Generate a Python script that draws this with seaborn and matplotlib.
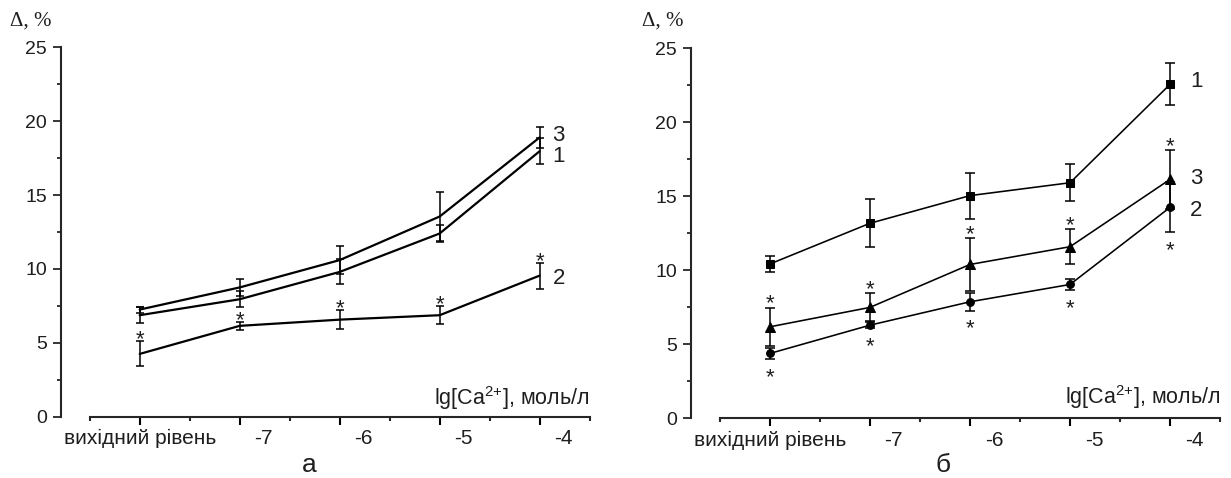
import numpy as np
import pandas as pd
import matplotlib
matplotlib.use("Agg")
import matplotlib.pyplot as plt
import matplotlib.transforms as mtransforms
import seaborn as sns

# ---------------- data ----------------
categories = ["вихідний рівень", "-7", "-6", "-5", "-4"]

# panel а
a_s1 = [6.87, 7.95, 9.80, 12.40, 17.97]
a_s1_err = [0.55, 0.55, 0.85, 0.55, 0.90]
a_s2 = [4.25, 6.15, 6.57, 6.87, 9.55]
a_s2_err = [0.85, 0.25, 0.65, 0.60, 0.88]
a_s3 = [7.25, 8.75, 10.60, 13.55, 18.90]
a_s3_err = [0.20, 0.60, 0.95, 1.65, 0.70]

# panel б
b_s1 = [10.43, 13.18, 15.05, 15.92, 22.57]
b_s1_err = [0.55, 1.62, 1.55, 1.25, 1.42]
b_s2 = [4.39, 6.30, 7.88, 9.05, 14.26]
b_s2_err = [0.40, 0.20, 0.60, 0.40, 1.70]
b_s3 = [6.19, 7.50, 10.40, 11.60, 16.15]
b_s3_err = [1.30, 0.95, 1.78, 1.20, 2.00]

# significance marks (True = asterisk)
a_s2_sig = [True, True, True, True, True]
b_s3_sig = [True, True, True, True, True]
b_s2_sig = [True, True, True, True, True]

series_names = ["1", "2", "3"]
a_label_y = [17.6, 9.36, 19.06]
b_label_y = [22.76, 14.04, 16.23]

ylabel_text = "Δ, %"
xlabel_text = r"lg[Ca$^{2{+}}$], моль/л"
panel_letters = ["а", "б"]

# ---------------- style ----------------
sns.set_style("ticks")
plt.rcParams["font.family"] = ["Liberation Sans", "DejaVu Sans"]
plt.rcParams["mathtext.default"] = "regular"
plt.rcParams["axes.linewidth"] = 1.5

XT_FS = 15
YT_FS = 14
TXT = "#1e1e1e"
xpos = np.arange(len(categories))

fig = plt.figure(figsize=(12.31, 4.78), dpi=100)
ax_a = fig.add_axes([0.04931, 0.1282, 0.4305, 0.7728])
ax_b = fig.add_axes([0.5611, 0.1245, 0.4309, 0.7745])


def make_df(vals, errs):
    return pd.DataFrame({"x": xpos, "value": vals, "err": errs})


def draw_series(ax, vals, errs, marker, lw, ms, capsize):
    df = make_df(vals, errs)
    sns.lineplot(data=df, x="x", y="value", ax=ax, color="black",
                 linewidth=lw, marker=marker, markersize=ms,
                 markeredgecolor="black", errorbar=None, legend=False)
    ax.errorbar(df["x"], df["value"], yerr=df["err"], fmt="none",
                ecolor="black", elinewidth=1.1, capsize=capsize,
                capthick=1.1, zorder=3)
    return df


def stars(ax, df, flags, where, offset_pt):
    for (x, v, e), f in zip(df[["x", "value", "err"]].values, flags):
        if not f:
            continue
        y = v + e if where == "above" else v - e
        ax.annotate("*", (x, y), xytext=(0, offset_pt),
                    textcoords="offset points", ha="center",
                    va="baseline", fontsize=16, color=TXT)


def style_axes(ax, lab_dy):
    ax.set_xlim(-0.79, 4.51)
    ax.set_ylim(0, 25)
    for s in ["top", "right"]:
        ax.spines[s].set_visible(False)
    ax.spines["bottom"].set_bounds(-0.5, 4.5)
    ax.spines["left"].set_linewidth(1.5)
    ax.spines["bottom"].set_linewidth(1.5)
    ax.set_xticks(xpos)
    ax.set_xticklabels(categories)
    ax.set_xticks(np.arange(-0.5, 5.0, 1.0), minor=True)
    ax.set_yticks(np.arange(0, 26, 5))
    ax.set_yticks(np.arange(2.5, 25, 5), minor=True)
    ax.tick_params(axis="x", which="major", length=6, width=1.5,
                   pad=3, labelsize=XT_FS, colors="black",
                   labelcolor=TXT)
    ax.tick_params(axis="x", which="minor", length=3, width=1.5)
    ax.tick_params(axis="y", which="major", length=5.8, width=1.3,
                   pad=4, labelsize=YT_FS, labelcolor=TXT)
    ax.tick_params(axis="y", which="minor", length=2.9, width=1.3)
    ax.set_xlabel("")
    ax.set_ylabel("")
    shift = mtransforms.ScaledTranslation(0.24, 0, fig.dpi_scale_trans)
    for i, lab in enumerate(ax.get_xticklabels()):
        if i > 0:
            lab.set_transform(lab.get_transform() + shift)
    tr = mtransforms.blended_transform_factory(ax.transData, ax.transAxes)
    ax.text(4.5, lab_dy, xlabel_text, transform=tr, ha="right",
            va="baseline", fontsize=15.5, color=TXT)


# ---- panel а ----
df_a1 = draw_series(ax_a, a_s1, a_s1_err, None, 1.6, 0, 2.8)
df_a2 = draw_series(ax_a, a_s2, a_s2_err, None, 1.6, 0, 2.8)
df_a3 = draw_series(ax_a, a_s3, a_s3_err, None, 1.6, 0, 2.8)
stars(ax_a, df_a2, a_s2_sig, "above", -3.0)
for name, y in zip(series_names, a_label_y):
    ax_a.text(4.19, y, name, ha="center", va="center", fontsize=16,
              color=TXT)
style_axes(ax_a, 0.033)

# ---- panel б ----
df_b1 = draw_series(ax_b, b_s1, b_s1_err, "s", 1.15, 5.6, 3.4)
df_b2 = draw_series(ax_b, b_s2, b_s2_err, "o", 1.15, 5.6, 3.4)
df_b3 = draw_series(ax_b, b_s3, b_s3_err, "^", 1.15, 6.6, 3.4)
stars(ax_b, df_b3, b_s3_sig, "above", -1.5)
stars(ax_b, df_b2, b_s2_sig, "below", -17.0)
for name, y in zip(series_names, b_label_y):
    ax_b.text(4.26, y, name, ha="center", va="center", fontsize=16,
              color=TXT)
style_axes(ax_b, 0.038)

# ---- outer texts ----
for xf in (10 / 1231, 641.7 / 1231):
    fig.text(xf, 1 - 21.5 / 478, ylabel_text, ha="left", va="center",
             fontsize=15, family=["Liberation Serif", "DejaVu Serif"],
             color=TXT)

for ax, letter, lx in [(ax_a, panel_letters[0], 1.70),
                       (ax_b, panel_letters[1], 1.73)]:
    tr = mtransforms.blended_transform_factory(ax.transData, fig.transFigure)
    ax.text(lx, 1.5 / 478, letter, transform=tr, ha="center", va="bottom",
            fontsize=19, color=TXT)

fig.savefig("out.png", dpi=100, facecolor="white")
